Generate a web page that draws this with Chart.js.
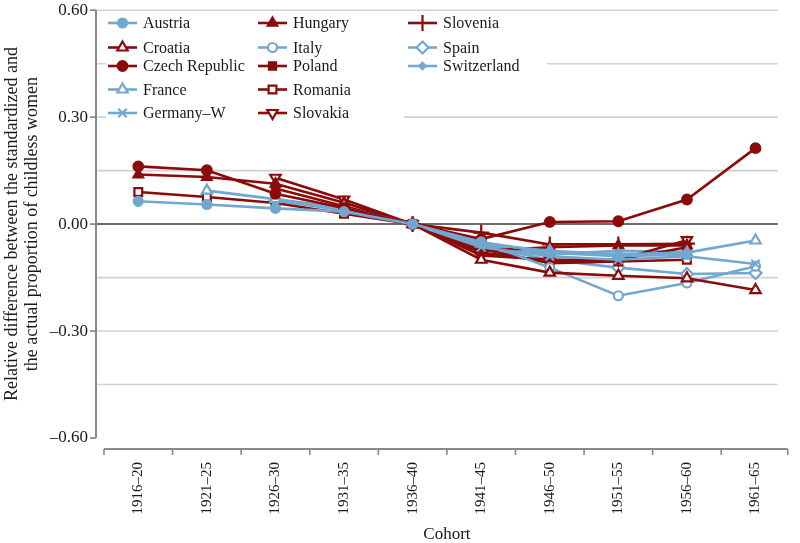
<!DOCTYPE html>
<html><head><meta charset="utf-8">
<script src="https://cdn.jsdelivr.net/npm/chart.js@4.4.1/dist/chart.umd.min.js"></script>
<style>html,body{margin:0;padding:0;background:#fff;}#wrap{width:800px;height:543px;}</style>
</head><body><div id="wrap"><canvas id="c" width="800" height="543"></canvas></div>
<script>
// ---- data ----
const cohorts = ['1916–20','1921–25','1926–30','1931–35','1936–40','1941–45','1946–50','1951–55','1956–60','1961–65'];
const austria     = [0.064, 0.055, 0.044, 0.035, 0, -0.050, -0.080, -0.090, -0.085, null];
const croatia     = [null,  null,  null,  null,  0, -0.100, -0.136, -0.145, -0.152, -0.185];
const czech       = [0.162, 0.151, 0.085, 0.045, 0, -0.042, 0.006, 0.008, 0.069, 0.213];
const france      = [null,  0.094, 0.070, 0.045, 0, -0.055, -0.075, -0.085, -0.080, -0.046];
const germanyW    = [null,  null,  null,  null,  0, -0.065, -0.090, -0.100, -0.090, -0.112];
const hungary     = [0.139, 0.132, 0.113, 0.060, 0, -0.075, -0.065, -0.060, -0.060, null];
const italy       = [null,  null,  null,  null,  0, -0.050, -0.122, -0.201, -0.165, -0.118];
const poland      = [null,  null,  0.100, 0.050, 0, -0.080, -0.105, -0.100, -0.065, null];
const romania     = [0.090, 0.076, 0.059, 0.029, 0, -0.070, -0.110, -0.105, -0.100, null];
const slovakia    = [null,  null,  0.130, 0.069, 0, -0.088, -0.100, -0.100, -0.045, null];
const slovenia    = [null,  null,  null,  null,  0, -0.024, -0.057, -0.057, -0.055, null];
const spain       = [null,  null,  0.066, 0.038, 0, -0.062, -0.100, -0.122, -0.140, -0.137];
const switzerland = [null,  null,  null,  null,  0, -0.060, -0.085, -0.075, -0.078, null];
const yTickValues = [-0.6, -0.45, -0.3, -0.15, 0, 0.15, 0.3, 0.45, 0.6];
const yTickLabels = ['–0.60', '', '–0.30', '', '0.00', '', '0.30', '', '0.60'];
const yTitle = ['Relative difference between the standardized and', 'the actual proportion of childless women'];
const xTitle = 'Cohort';

// ---- styles ----
const DR = '#8b0a0a', LB = '#72a7cf';
const SERIF = "'Liberation Serif', 'DejaVu Serif', serif";
function ds(label, data, color, style, filled, radius, rotation) {
  return {
    label, data, borderColor: color, backgroundColor: filled ? color : '#fff',
    pointBackgroundColor: filled ? color : '#fff', pointBorderColor: color,
    pointStyle: style, pointRadius: radius, pointHoverRadius: radius, pointRotation: rotation || 0,
    pointBorderWidth: 2.2, borderWidth: 2.6, fill: false, tension: 0, spanGaps: false
  };
}
const datasets = [
  ds('Austria', austria, LB, 'circle', true, 4.5),
  ds('Croatia', croatia, DR, 'triangle', false, 6),
  ds('Czech Republic', czech, DR, 'circle', true, 4.8),
  ds('France', france, LB, 'triangle', false, 6),
  ds('Germany–W', germanyW, LB, 'crossRot', false, 6),
  ds('Hungary', hungary, DR, 'triangle', true, 5.5),
  ds('Italy', italy, LB, 'circle', false, 4.5),
  ds('Poland', poland, DR, 'rect', true, 5),
  ds('Romania', romania, DR, 'rect', false, 5.5),
  ds('Slovakia', slovakia, DR, 'triangle', false, 6, 180),
  ds('Slovenia', slovenia, DR, 'cross', false, 8),
  ds('Spain', spain, LB, 'rectRot', false, 6),
  ds('Switzerland', switzerland, LB, 'rectRot', true, 3.2)
];

const axesPlugin = {
  id: 'axesPlugin',
  beforeDatasetsDraw(chart) {
    const {ctx, chartArea, scales: {x, y}} = chart;
    const axisX = chartArea.left - 8;
    const gridEnd = chartArea.right - 12;
    ctx.save();
    yTickValues.forEach((v, i) => {
      const py = y.getPixelForValue(v);
      if (v !== -0.6) {
        ctx.strokeStyle = v === 0 ? '#6a6a6a' : '#d2d2d2';
        ctx.lineWidth = v === 0 ? 2 : 1.6;
        ctx.beginPath(); ctx.moveTo(axisX, py); ctx.lineTo(gridEnd, py); ctx.stroke();
      }
      if (yTickLabels[i] !== '') {
        ctx.strokeStyle = '#808080'; ctx.lineWidth = 1.6;
        ctx.beginPath(); ctx.moveTo(axisX - 6, py); ctx.lineTo(axisX, py); ctx.stroke();
      }
    });
    ctx.strokeStyle = '#8a8a8a'; ctx.lineWidth = 2;
    ctx.beginPath();
    ctx.moveTo(axisX, y.getPixelForValue(0.6)); ctx.lineTo(axisX, y.getPixelForValue(-0.6)); ctx.stroke();
    // x axis
    const ay = chartArea.bottom + 11;
    const half = (x.getPixelForValue(1) - x.getPixelForValue(0)) / 2;
    const x0 = x.getPixelForValue(0) - half, x1 = x.getPixelForValue(cohorts.length - 1) + half;
    ctx.beginPath(); ctx.moveTo(x0, ay); ctx.lineTo(x1 - 2, ay); ctx.stroke();
    ctx.lineWidth = 1.6;
    for (let i = 0; i <= cohorts.length; i++) {
      const px = Math.min(x0 + i * 2 * half, x1 - 2);
      ctx.beginPath(); ctx.moveTo(px, ay); ctx.lineTo(px, ay + 6); ctx.stroke();
    }
    ctx.restore();
  },
  afterDatasetsDraw(chart) {
    const {ctx} = chart;
    const rows = [23, 47.5, 66, 89.5, 113];
    const cols = [108, 258, 408];
    ctx.save();
    ctx.fillStyle = '#fff';
    ctx.fillRect(106, 12, 441, 90);
    ctx.fillRect(106, 12, 298, 111);
    chart.data.datasets.forEach((d, i) => {
      const cx = cols[Math.floor(i / 5)], cy = rows[i % 5];
      ctx.strokeStyle = d.borderColor; ctx.lineWidth = d.borderWidth;
      ctx.beginPath(); ctx.moveTo(cx, cy); ctx.lineTo(cx + 29, cy); ctx.stroke();
      ctx.fillStyle = d.pointBackgroundColor; ctx.strokeStyle = d.pointBorderColor;
      ctx.lineWidth = d.pointBorderWidth;
      Chart.helpers.drawPoint(ctx, {pointStyle: d.pointStyle, radius: d.pointRadius, rotation: d.pointRotation, borderWidth: d.pointBorderWidth}, cx + 14.5, cy);
      ctx.fillStyle = '#1a1a1a';
      ctx.font = '16px ' + SERIF;
      ctx.textBaseline = 'middle'; ctx.textAlign = 'left';
      ctx.fillText(d.label, cx + 35, cy + 1);
    });
    ctx.restore();
  }
};

new Chart(document.getElementById('c'), {
  type: 'line',
  data: {labels: cohorts, datasets},
  plugins: [axesPlugin],
  options: {
    responsive: false, animation: false, devicePixelRatio: 1,
    layout: {padding: {top: 8, right: 1, left: 0, bottom: 0}},
    plugins: {legend: {display: false}, tooltip: {enabled: false}},
    scales: {
      x: {
        type: 'category', offset: true,
        grid: {display: false, drawTicks: false}, border: {display: false},
        ticks: {minRotation: 90, maxRotation: 90, padding: 24, color: '#1a1a1a', font: {family: SERIF, size: 15}},
        title: {display: true, text: xTitle, color: '#1a1a1a', font: {family: SERIF, size: 17, lineHeight: 1.0}, padding: {top: 0, bottom: 0}},
        afterFit(s) { s.height = 105; s.paddingLeft = 0; s.paddingRight = 0; }
      },
      y: {
        min: -0.6, max: 0.6,
        afterBuildTicks(s) { s.ticks = yTickValues.map(v => ({value: v})); },
        grid: {display: false, drawTicks: false}, border: {display: false},
        ticks: {padding: 16, color: '#1a1a1a', font: {family: SERIF, size: 17},
          callback(v) { const i = yTickValues.findIndex(t => Math.abs(t - v) < 1e-9); return i >= 0 ? yTickLabels[i] : ''; }},
        title: {display: true, text: yTitle, color: '#1a1a1a', font: {family: SERIF, size: 18, lineHeight: 1.12}, padding: {top: 2, bottom: 0}},
        afterFit(s) { s.width = 104; s.paddingTop = 0; s.paddingBottom = 0; }
      }
    }
  }
});
</script></body></html>
